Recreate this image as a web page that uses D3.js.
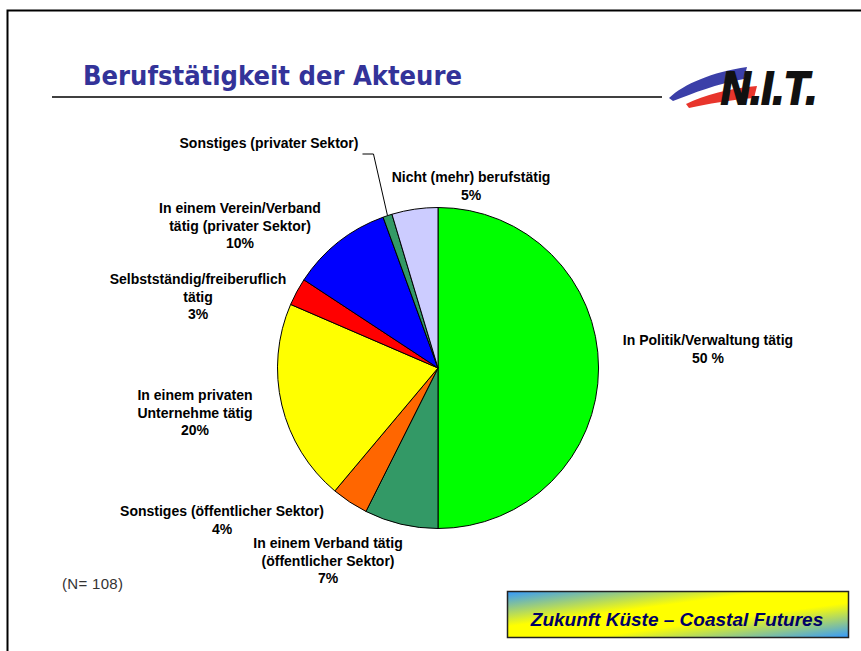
<!DOCTYPE html>
<html>
<head>
<meta charset="utf-8">
<script src="https://cdn.jsdelivr.net/npm/d3@7"></script>
<style>
  body { margin: 0; background: #fff; }
  svg { display: block; }
  .lbl { font-family: "Liberation Sans", Arial, sans-serif; font-weight: bold; font-size: 14px; fill: #000; }
</style>
</head>
<body>
<svg id="chart" width="861" height="651"></svg>
<script>
// Data: counts per category (N = 108), shown as rounded percent
const categories = [
    ["In Politik/Verwaltung tätig"],
    ["In einem Verband tätig", "(öffentlicher Sektor)"],
    ["Sonstiges (öffentlicher Sektor)"],
    ["In einem privaten", "Unternehme tätig"],
    ["Selbstständig/freiberuflich", "tätig"],
    ["In einem Verein/Verband", "tätig (privater Sektor)"],
    ["Sonstiges (privater Sektor)"],
    ["Nicht (mehr) berufstätig"]
];
const counts = [54, 8, 4, 22, 3, 11, 1, 5];
const percentLabels = ["50 %", "7%", "4%", "20%", "3%", "10%", null, "5%"];
const colors = ["#00ff00", "#339966", "#ff6600", "#ffff00", "#ff0000", "#0000ff", "#339966", "#ccccff"];
const sampleNote = "(N= 108)";

const svg = d3.select("#chart");
const center = {x: 438, y: 368};
const radius = 160.5;

// slide frame (left + top edge)
svg.append("path")
    .attr("d", "M7.5,651 L7.5,10.5 L861,10.5")
    .attr("fill", "none")
    .attr("stroke", "#000")
    .attr("stroke-width", 2);

// Title
svg.append("text")
    .attr("x", 83)
    .attr("y", 85)
    .attr("font-family", "DejaVu Sans Condensed, DejaVu Sans, sans-serif")
    .attr("font-weight", "bold")
    .attr("font-size", "27px")
    .attr("fill", "#333399")
    .attr("textLength", 379)
    .attr("lengthAdjust", "spacingAndGlyphs")
    .text("Berufstätigkeit der Akteure");

svg.append("line")
    .attr("x1", 52).attr("x2", 662)
    .attr("y1", 97).attr("y2", 97)
    .attr("stroke", "#000")
    .attr("stroke-width", 1.5);

// N.I.T. logo
const logo = svg.append("g");
logo.append("path")
    .attr("d", "M669,98 C684,84 712,72 747,67 L744,79 C716,84 694,93 673,101 Z")
    .attr("fill", "#3b3fa8");
logo.append("path")
    .attr("d", "M686,104 C704,95 730,88 757,86 L754,98 C730,100 708,104 689,108 Z")
    .attr("fill", "#e8352c");
logo.append("text")
    .attr("x", 721)
    .attr("y", 104)
    .attr("font-family", "Liberation Sans, Arial, sans-serif")
    .attr("font-weight", "bold")
    .attr("font-style", "italic")
    .attr("font-size", "46px")
    .attr("textLength", 96)
    .attr("lengthAdjust", "spacingAndGlyphs")
    .attr("fill", "#111")
    .attr("stroke", "#111")
    .attr("stroke-width", 2.2)
    .text("N.I.T.");

// Pie
const pie = d3.pie().sort(null).value(d => d)(counts);
const arc = d3.arc().innerRadius(0).outerRadius(radius);
const edgeArc = d3.arc().innerRadius(radius).outerRadius(radius);

const g = svg.append("g").attr("transform", `translate(${center.x},${center.y})`);

g.selectAll("path.slice")
    .data(pie)
    .enter().append("path")
    .attr("class", "slice")
    .attr("d", arc)
    .attr("fill", (d, i) => colors[i])
    .attr("stroke", "#000")
    .attr("stroke-width", 1);

// Label anchors relative to the pie centre (first line baseline)
const labelOffsets = [
    [270, -23], [-110, 180], [-216, 148], [-243, 32],
    [-240, -84], [-198, -155], [-169, -220], [33, -186]
];
const lineHeight = 17.5;

categories.forEach((lines, i) => {
    const [dx, dy] = labelOffsets[i];
    const t = g.append("text")
        .attr("class", "lbl")
        .attr("text-anchor", "middle");
    const all = percentLabels[i] ? lines.concat([percentLabels[i]]) : lines;
    all.forEach((s, k) => {
        t.append("tspan")
            .attr("x", dx)
            .attr("y", dy + k * lineHeight)
            .text(s);
    });
});

// Leader line for the small slice
const smallIdx = 6;
const smallLabel = g.selectAll("text.lbl").filter((d, i) => i === smallIdx).node();
const bb = smallLabel.getBBox();
const [ex, ey] = edgeArc.centroid(pie[smallIdx]);
const sx = bb.x + bb.width + 4;
const sy = labelOffsets[smallIdx][1] + 6;
g.append("path")
    .attr("d", `M${sx},${sy} L${sx + 11},${sy} L${ex},${ey}`)
    .attr("fill", "none")
    .attr("stroke", "#000")
    .attr("stroke-width", 1);

// N note
svg.append("text")
    .attr("x", 62)
    .attr("y", 589)
    .attr("font-family", "Liberation Sans, Arial, sans-serif")
    .attr("font-size", "15px")
    .attr("textLength", 61)
    .attr("fill", "#333")
    .text(sampleNote);

// Footer box
const defs = svg.append("defs");
const grad = defs.append("linearGradient")
    .attr("id", "boxGrad")
    .attr("x1", 0).attr("y1", 0).attr("x2", 1).attr("y2", 1);
grad.append("stop").attr("offset", "0").attr("stop-color", "#3399ff");
grad.append("stop").attr("offset", "0.38").attr("stop-color", "#ffff00");
grad.append("stop").attr("offset", "0.62").attr("stop-color", "#ffff00");
grad.append("stop").attr("offset", "1").attr("stop-color", "#3399ff");

svg.append("rect")
    .attr("x", 507.5).attr("y", 591.5)
    .attr("width", 341).attr("height", 46)
    .attr("fill", "url(#boxGrad)")
    .attr("stroke", "#222")
    .attr("stroke-width", 1.5);

svg.append("text")
    .attr("x", 677)
    .attr("y", 626)
    .attr("text-anchor", "middle")
    .attr("font-family", "Liberation Sans, Arial, sans-serif")
    .attr("font-weight", "bold")
    .attr("font-style", "italic")
    .attr("font-size", "19px")
    .attr("fill", "#000066")
    .text("Zukunft Küste – Coastal Futures");
</script>
</body>
</html>
